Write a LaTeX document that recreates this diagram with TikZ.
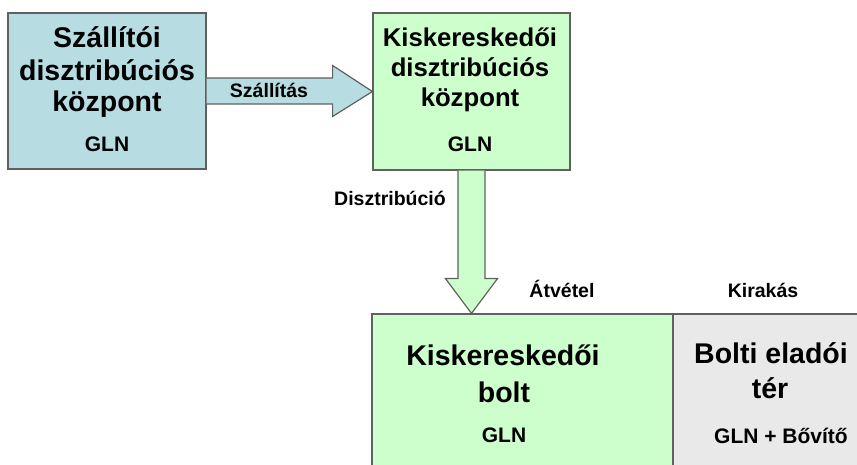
\documentclass[tikz,border=0pt]{standalone}
\usepackage{fontspec}
\setmainfont{Liberation Sans}
\usetikzlibrary{calc}
\definecolor{boxblue}{HTML}{B7DDE3}
\definecolor{boxgreen}{HTML}{CCFFCC}
\definecolor{boxgrey}{HTML}{E9E9E9}
\definecolor{edgecol}{HTML}{606060}
\begin{document}
\begin{tikzpicture}[x=1pt,y=-1pt,
  box/.style={draw=edgecol, line width=1.2pt, inner sep=0pt},
  bigtxt/.style={anchor=base, inner sep=0pt, font=\bfseries\fontsize{28.5}{30}\selectfont},
  midtxt/.style={anchor=base, inner sep=0pt, font=\bfseries\fontsize{25.7}{30}\selectfont},
  glntxt/.style={anchor=base, inner sep=0pt, font=\bfseries\fontsize{21}{24}\selectfont},
  lbltxt/.style={anchor=base, inner sep=0pt, font=\bfseries\fontsize{19.5}{22}\selectfont},
  arrowline/.style={draw=edgecol, line width=1.2pt, line join=miter}]
\useasboundingbox (0,0) rectangle (857,465);
\clip (0,0) rectangle (857,465);
% boxes
\node[box, fill=boxblue, minimum width=198pt, minimum height=156pt] (sup) at (107,91) {};
\node[box, fill=boxgreen, minimum width=197pt, minimum height=157pt] (rdc) at (471.5,91.5) {};
\node[box, fill=boxgreen, minimum width=301pt, minimum height=166pt] (shop) at (522.5,397) {};
\node[box, fill=boxgrey, minimum width=197pt, minimum height=166pt] (floor) at (771.5,397) {};
% right arrow
\coordinate (a) at (sup.east);
\coordinate (b) at (rdc.west);
\fill[boxblue] ($(a)+(0,-13)$) -- ($(a)+(126,-13)$) -- ($(a)+(126,-25.5)$) -- (b)
  -- ($(a)+(126,25.5)$) -- ($(a)+(126,13)$) -- ($(a)+(0,13)$) -- cycle;
\draw[arrowline] ($(a)+(0,-13)$) -- ($(a)+(126,-13)$) -- ($(a)+(126,-25.5)$) -- (b)
  -- ($(a)+(126,25.5)$) -- ($(a)+(126,13)$) -- ($(a)+(0,13)$);
% down arrow
\coordinate (c) at (rdc.south);
\coordinate (d) at (rdc.south |- shop.north);
\fill[boxgreen] ($(c)+(-13.5,0)$) -- ($(c)+(-13.5,108)$) -- ($(c)+(-26,108)$) -- (d)
  -- ($(c)+(26,108)$) -- ($(c)+(13.5,108)$) -- ($(c)+(13.5,0)$) -- cycle;
\draw[arrowline] ($(c)+(-13.5,0)$) -- ($(c)+(-13.5,108)$) -- ($(c)+(-26,108)$) -- (d)
  -- ($(c)+(26,108)$) -- ($(c)+(13.5,108)$) -- ($(c)+(13.5,0)$);
% box 1 text
\node[bigtxt] (s1) at (107,48) {Szállítói};
\node[bigtxt] (s2) at (107,81) {disztribúciós};
\node[bigtxt] (s3) at (107,112) {központ};
\node[glntxt] (s4) at (107,152) {GLN};
% box 2 text
\node[midtxt] (r1) at (470,47) {Kiskereskedői};
\node[midtxt] (r2) at (470,77) {disztribúciós};
\node[midtxt] (r3) at (470,107) {központ};
\node[glntxt] (r4) at (470,152) {GLN};
% labels
\node[lbltxt] (l1) at (269,98) {Szállítás};
\node[lbltxt] (l2) at (390,206) {Disztribúció};
\node[lbltxt] (l3) at (562,298) {Átvétel};
\node[lbltxt] (l4) at (763,298) {Kirakás};
% bottom boxes text
\node[bigtxt] (k1) at (503,365) {Kiskereskedői};
\node[bigtxt] (k2) at (504,402) {bolt};
\node[glntxt] (k3) at (504,442) {GLN};
\node[bigtxt] (f1) at (771,363) {Bolti eladói};
\node[bigtxt] (f2) at (770,398) {tér};
\node[glntxt] (f3) at (781,443) {GLN + Bővítő};
\end{tikzpicture}
\end{document}
